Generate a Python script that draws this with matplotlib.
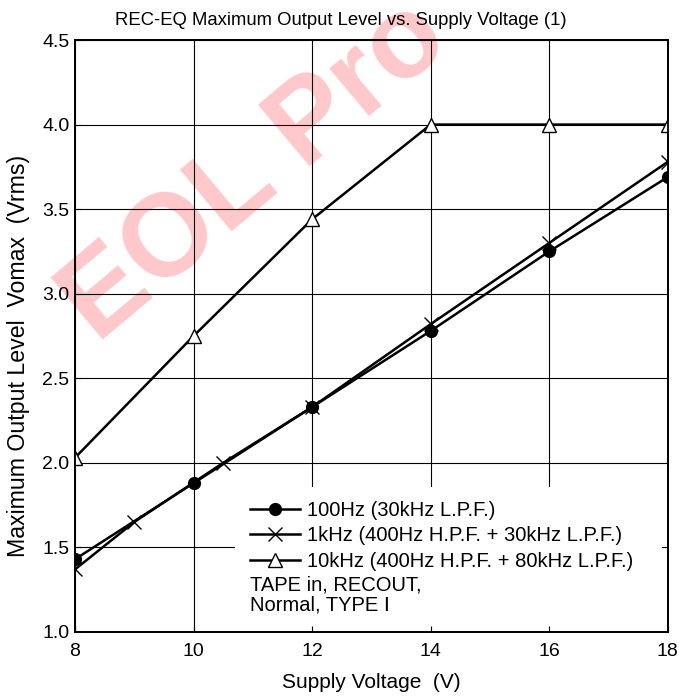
import matplotlib
matplotlib.use('Agg')
import matplotlib.pyplot as plt
from matplotlib.patches import Rectangle

plt.rcParams['font.family'] = ['Liberation Sans', 'DejaVu Sans']

# ── data ─────────────────────────────────────────────────────────────────────
v_100 = [8, 10, 12, 14, 16, 18]
y_100 = [1.43, 1.88, 2.33, 2.78, 3.25, 3.69]

v_1k = [8, 9, 10.5, 12, 14, 16, 18]
y_1k = [1.37, 1.65, 2.00, 2.33, 2.82, 3.30, 3.78]

v_10k = [8, 10, 12, 14, 16, 18]
y_10k = [2.03, 2.75, 3.44, 4.00, 4.00, 4.00]

labels = ['100Hz (30kHz L.P.F.)',
          '1kHz (400Hz H.P.F. + 30kHz L.P.F.)',
          '10kHz (400Hz H.P.F. + 80kHz L.P.F.)']
x_ticks = [8, 10, 12, 14, 16, 18]
y_ticks = [1.0, 1.5, 2.0, 2.5, 3.0, 3.5, 4.0, 4.5]

# ── figure ───────────────────────────────────────────────────────────────────
fig = plt.figure(figsize=(6.83, 6.97), dpi=100)
ax = fig.add_axes([0.1098, 0.0933, 0.868, 0.8493])
ax.set_xlim(8, 18)
ax.set_ylim(1.0, 4.5)
ax.set_xticks(x_ticks)
ax.set_yticks(y_ticks)
ax.set_yticklabels([f'{t:.1f}' for t in y_ticks])
ax.grid(True, color='black', lw=0.8)
ax.tick_params(direction='in', length=4, labelsize=14, color='black')
ax.tick_params(axis='x', pad=8)
ax.tick_params(axis='y', pad=4)
for s in ax.spines.values():
    s.set_linewidth(1.3)

# watermark (under grid and lines)
ax.text(0.142, 0.5065, 'EOL Pro', transform=fig.transFigure,
        fontsize=84, fontweight='bold', color='#ffc8ca', rotation=40,
        rotation_mode='anchor', ha='left', va='baseline', zorder=0.1,
        clip_on=False)

# white box behind the legend, hiding the grid
ax.add_patch(Rectangle((0.27, 0.0), 0.72, 0.245, transform=ax.transAxes,
                       facecolor='white', edgecolor='none', zorder=1.8))

kw = dict(color='black', lw=1.8, zorder=3)
ax.plot(v_100, y_100, marker='o', ms=8.5, mfc='black', mec='black',
        label=labels[0], **kw)
ax.plot(v_1k, y_1k, marker='x', ms=10, mew=1.0, label=labels[1], **kw)
ax.plot(v_10k, y_10k, marker='^', ms=10, mfc='white', mec='black', mew=1.0,
        label=labels[2], **kw)

ax.legend(loc='upper left', bbox_to_anchor=(0.295, 0.222), frameon=False,
          fontsize=14.5, handlelength=2.5, handletextpad=0.35,
          borderaxespad=0, borderpad=0, labelspacing=0.33)

ax.text(0.295, 0.095, 'TAPE in, RECOUT,\nNormal, TYPE \u2160',
        transform=ax.transAxes, fontsize=14.5, va='top', ha='left',
        linespacing=1.05, zorder=4)

# ticks on top of the white box
ax2 = ax.twiny()
ax2.set_xlim(ax.get_xlim())
ax2.set_xticks(x_ticks)
ax2.xaxis.set_ticks_position('bottom')
ax2.tick_params(direction='in', length=4, labelbottom=False, labeltop=False)
for s in ax2.spines.values():
    s.set_linewidth(1.3)

ax.set_title('REC-EQ Maximum Output Level vs. Supply Voltage (1)',
             fontsize=13.3, pad=11, x=0.449)
ax.set_xlabel('Supply Voltage  (V)', fontsize=15, labelpad=9)
ax.set_ylabel('Maximum Output Level  Vomax  (Vrms)', fontsize=16.7,
              va='center')
ax.yaxis.set_label_coords(-0.096, 0.466)

fig.savefig('out.png', dpi=100)
